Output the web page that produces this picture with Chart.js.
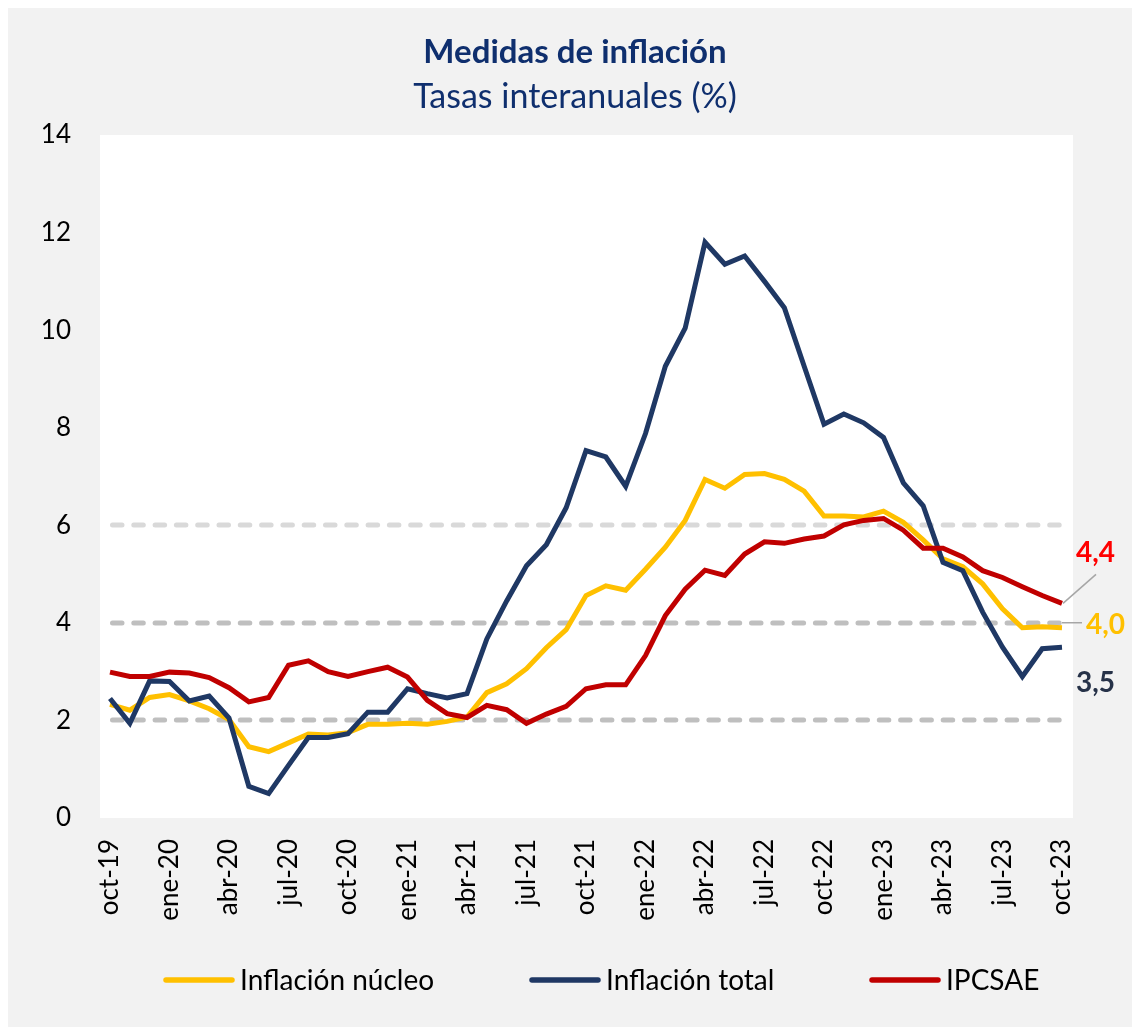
<!DOCTYPE html>
<html>
<head>
<meta charset="utf-8">
<script src="https://cdn.jsdelivr.net/npm/chart.js@4/dist/chart.umd.min.js"></script>
<style>
  html, body { margin: 0; padding: 0; background: #ffffff; }
  #wrap { width: 1132px; height: 1027px; }
</style>
</head>
<body>
<div id="wrap"><canvas id="c" width="1132" height="1027"></canvas></div>
<script>
const categories = [
  'oct-19','nov-19','dic-19',
  'ene-20','feb-20','mar-20','abr-20','may-20','jun-20','jul-20','ago-20','sep-20','oct-20','nov-20','dic-20',
  'ene-21','feb-21','mar-21','abr-21','may-21','jun-21','jul-21','ago-21','sep-21','oct-21','nov-21','dic-21',
  'ene-22','feb-22','mar-22','abr-22','may-22','jun-22','jul-22','ago-22','sep-22','oct-22','nov-22','dic-22',
  'ene-23','feb-23','mar-23','abr-23','may-23','jun-23','jul-23','ago-23','sep-23','oct-23'
];
const inflacionNucleo = [
  2.33,2.21,2.47,
  2.53,2.40,2.24,2.02,1.46,1.36,1.54,1.72,1.70,1.75,1.92,1.92,
  1.94,1.92,1.98,2.07,2.57,2.75,3.06,3.49,3.86,4.56,4.76,4.67,
  5.10,5.55,6.10,6.94,6.76,7.04,7.06,6.94,6.70,6.19,6.19,6.17,
  6.29,6.06,5.70,5.31,5.15,4.80,4.29,3.90,3.92,3.90
];
const inflacionTotal = [
  2.45,1.94,2.81,
  2.80,2.40,2.50,2.05,0.65,0.50,1.08,1.65,1.65,1.73,2.17,2.17,
  2.65,2.55,2.46,2.55,3.67,4.45,5.17,5.60,6.36,7.53,7.40,6.80,
  7.88,9.26,10.04,11.80,11.35,11.52,11.00,10.46,9.26,8.07,8.28,8.10,
  7.80,6.87,6.40,5.24,5.07,4.22,3.50,2.90,3.47,3.50
];
const ipcsae = [
  2.99,2.90,2.90,
  2.99,2.97,2.88,2.67,2.38,2.47,3.13,3.22,3.00,2.90,3.00,3.09,
  2.89,2.41,2.14,2.06,2.31,2.22,1.94,2.13,2.29,2.65,2.73,2.73,
  3.33,4.15,4.69,5.08,4.97,5.41,5.66,5.63,5.72,5.78,6.01,6.10,
  6.14,5.90,5.53,5.53,5.35,5.07,4.93,4.74,4.56,4.40
];
const seriesNames = ['Inflación núcleo', 'Inflación total', 'IPCSAE'];
const seriesColors = ['#ffc000', '#1f3864', '#c00000'];
const endLabels = ['4,0', '3,5', '4,4'];
const endLabelColors = ['#ffc000', '#263248', '#ff0000'];
const yTicks = [0, 2, 4, 6, 8, 10, 12, 14];
const refLines = [2, 4, 6];
const refColors = ['#bfbfbf', '#bfbfbf', '#d9d9d9'];
const titleText = 'Medidas de inflación';
const subtitleText = 'Tasas interanuales (%)';

const FONT = 'Lato, "Open Sans", "DejaVu Sans", sans-serif';

const backgroundPlugin = {
  id: 'bgPanel',
  beforeDraw(chart) {
    const ctx = chart.ctx, a = chart.chartArea;
    ctx.save();
    ctx.fillStyle = '#ffffff';
    ctx.fillRect(0, 0, chart.width, chart.height);
    ctx.fillStyle = '#f2f2f2';
    ctx.fillRect(8, 8, chart.width - 8, chart.height - 8);
    ctx.fillStyle = '#ffffff';
    ctx.fillRect(a.left - 10, a.top, (a.right + 11) - (a.left - 10), a.bottom - a.top);
    ctx.restore();
  }
};

const titlePlugin = {
  id: 'titles',
  afterDraw(chart) {
    const ctx = chart.ctx;
    ctx.save();
    ctx.textAlign = 'center';
    ctx.textBaseline = 'alphabetic';
    ctx.fillStyle = '#0f2f6e';
    ctx.font = 'bold 33px ' + FONT;
    ctx.fillText(titleText, 575, 63);
    ctx.font = '34px ' + FONT;
    ctx.fillText(subtitleText, 575, 108);
    ctx.restore();
  }
};

const legendPlugin = {
  id: 'customLegend',
  afterDraw(chart) {
    const ctx = chart.ctx;
    const boxX = [163, 529, 869];
    const y = 980;
    ctx.save();
    ctx.font = '28px ' + FONT;
    ctx.textBaseline = 'middle';
    ctx.textAlign = 'left';
    chart.data.datasets.forEach((ds, i) => {
      ctx.strokeStyle = seriesColors[i];
      ctx.lineWidth = 5.5;
      ctx.lineCap = 'round';
      ctx.beginPath();
      ctx.moveTo(boxX[i] + 3, y);
      ctx.lineTo(boxX[i] + 69, y);
      ctx.stroke();
      ctx.fillStyle = '#000000';
      ctx.fillText(ds.label, boxX[i] + 77, y + 1);
    });
    ctx.restore();
  }
};

const refLinePlugin = {
  id: 'refLines',
  beforeDatasetsDraw(chart) {
    const ctx = chart.ctx, a = chart.chartArea, ys = chart.scales.y;
    ctx.save();
    ctx.lineWidth = 5;
    ctx.lineCap = 'round';
    ctx.setLineDash([9.5, 11.8]);
    ctx.lineDashOffset = -2.5;
    refLines.forEach((v, i) => {
      const y = Math.round(ys.getPixelForValue(v));
      ctx.strokeStyle = refColors[i];
      ctx.beginPath();
      ctx.moveTo(a.left, y);
      ctx.lineTo(a.right, y);
      ctx.stroke();
    });
    ctx.restore();
  }
};

const endLabelPlugin = {
  id: 'endLabels',
  afterDatasetsDraw(chart) {
    const ctx = chart.ctx;
    ctx.save();
    ctx.font = 'bold 28px ' + FONT;
    ctx.textBaseline = 'middle';
    ctx.textAlign = 'left';
    const offs = [[24, -3], [14, 36], [14, -50]];
    chart.data.datasets.forEach((ds, i) => {
      const meta = chart.getDatasetMeta(i);
      const pt = meta.data[meta.data.length - 1];
      const tx = pt.x + offs[i][0], ty = pt.y + offs[i][1];
      if (i === 2) {
        ctx.strokeStyle = '#a6a6a6';
        ctx.lineWidth = 1.5;
        ctx.beginPath();
        ctx.moveTo(pt.x + 1, pt.y);
        ctx.lineTo(pt.x + 34, pt.y - 29);
        ctx.stroke();
      }
      if (i === 0) {
        ctx.strokeStyle = '#a6a6a6';
        ctx.lineWidth = 1.5;
        ctx.beginPath();
        ctx.moveTo(pt.x, pt.y - 5);
        ctx.lineTo(pt.x + 20, pt.y - 5);
        ctx.stroke();
      }
      ctx.fillStyle = endLabelColors[i];
      ctx.fillText(endLabels[i], tx, ty);
    });
    ctx.restore();
  }
};

const datasets = [inflacionNucleo, inflacionTotal, ipcsae].map((vals, i) => ({
  label: seriesNames[i],
  data: vals,
  borderColor: seriesColors[i],
  backgroundColor: seriesColors[i],
  borderWidth: 5,
  pointRadius: 0,
  pointHoverRadius: 0,
  tension: 0,
  fill: false,
  borderCapStyle: 'butt',
  borderJoinStyle: 'miter'
}));
datasets[0].order = 3;
datasets[1].order = 2;
datasets[2].order = 1;

new Chart(document.getElementById('c'), {
  type: 'line',
  data: { labels: categories, datasets: datasets },
  options: {
    responsive: false,
    animation: false,
    devicePixelRatio: 1,
    layout: { padding: { left: 8, right: 70, top: 135, bottom: 84 } },
    scales: {
      x: {
        type: 'category',
        offset: false,
        grid: { display: false, drawTicks: false },
        border: { display: false },
        ticks: {
          autoSkip: false,
          maxRotation: 90,
          minRotation: 90,
          padding: 21,
          color: '#000000',
          font: { family: FONT, size: 26 },
          callback: function(value, index) { return index % 3 === 0 ? categories[index] : ''; }
        },
        afterFit(scale) { scale.height = 125; }
      },
      y: {
        min: 0,
        max: 14,
        grid: { display: false, drawTicks: false },
        border: { display: false },
        afterBuildTicks(scale) { scale.ticks = yTicks.map(v => ({ value: v })); },
        ticks: {
          padding: 39,
          color: '#000000',
          font: { family: FONT, size: 26 }
        },
        afterFit(scale) { scale.width = 102; }
      }
    },
    plugins: {
      title: { display: false },
      subtitle: { display: false },
      legend: { display: false },
      tooltip: { enabled: false }
    }
  },
  plugins: [backgroundPlugin, refLinePlugin, endLabelPlugin, titlePlugin, legendPlugin]
});
</script>
</body>
</html>
